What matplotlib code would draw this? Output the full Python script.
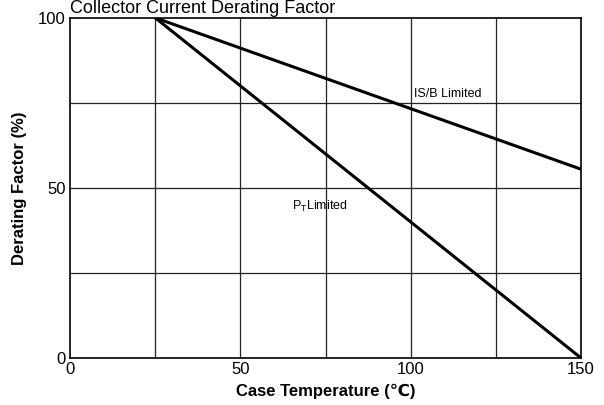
import numpy as np
import matplotlib.pyplot as plt

plt.rcParams['font.family'] = ['Liberation Sans', 'DejaVu Sans']

# data
temp = [25, 150]
pt_limited = [100, 0]
isb_limited = [100, 55.5]

x_ticks = [0, 50, 100, 150]
y_ticks = [0, 50, 100]
grid_x = [25, 50, 75, 100, 125]
grid_y = [25, 50, 75]

fig = plt.figure(figsize=(6.04, 4.05), dpi=100)
ax = fig.add_axes([0.116, 0.116, 0.846, 0.84])

for gx in grid_x:
    ax.axvline(gx, color='#222222', lw=0.9, zorder=1)
for gy in grid_y:
    ax.axhline(gy, color='#222222', lw=0.9, zorder=1)

ax.plot(temp, pt_limited, color='black', lw=2.2, zorder=3)
ax.plot(temp, isb_limited, color='black', lw=2.2, zorder=3)

ax.set_xlim(0, 150)
ax.set_ylim(0, 100)
ax.set_xticks(x_ticks)
ax.set_yticks(y_ticks)
ax.tick_params(length=0, labelsize=12, pad=3)
for s in ax.spines.values():
    s.set_linewidth(1.2)

ax.text(101, 77.5, 'IS/B Limited', fontsize=9, va='center', ha='left')
ax.text(65.2, 44.7, r'P$_\mathregular{T}$Limited', fontsize=9, va='center', ha='left')

ax.set_xlabel('Case Temperature (\u2103)', fontsize=12, fontweight='bold', labelpad=5)
ax.set_ylabel('Derating Factor (%)', fontsize=12, fontweight='bold', labelpad=8)
fig.text(0.116, 1.0, 'Collector Current Derating Factor', fontsize=13,
         ha='left', va='top')

fig.savefig('out.png', dpi=100)
